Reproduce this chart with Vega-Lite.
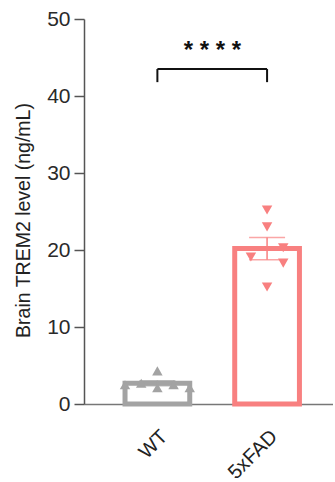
{
  "$schema": "https://vega.github.io/schema/vega-lite/v6.json",
  "autosize": "none",
  "padding": {"left": 84, "top": 19, "right": 0, "bottom": 74},
  "width": 249,
  "height": 385,
  "background": "white",
  "view": {"stroke": "transparent", "strokeWidth": 0},
  "config": {"view": {"stroke": "transparent", "strokeWidth": 0}, "font": "Liberation Sans", "axis": {"grid": false}},
  "datasets": {
    "points": [
      {"group": "WT", "value": 2.5, "col": "a"},
      {"group": "WT", "value": 2.7, "col": "b"},
      {"group": "WT", "value": 4.3, "col": "c"},
      {"group": "WT", "value": 2.1, "col": "c"},
      {"group": "WT", "value": 2.5, "col": "d"},
      {"group": "WT", "value": 2.1, "col": "e"},
      {"group": "5xFAD", "value": 25.2, "col": "c"},
      {"group": "5xFAD", "value": 23.0, "col": "c"},
      {"group": "5xFAD", "value": 20.3, "col": "d"},
      {"group": "5xFAD", "value": 19.1, "col": "b"},
      {"group": "5xFAD", "value": 18.3, "col": "d"},
      {"group": "5xFAD", "value": 15.2, "col": "c"}
    ],
    "bracket": [
      {"group": "WT", "low": 41.8, "high": 43.5},
      {"group": "5xFAD", "low": 41.8, "high": 43.5}
    ],
    "sig": [
      {"from": "WT", "to": "5xFAD", "y": 43.5, "label_y": 45.0, "label": "* * * *"}
    ]
  },
  "resolve": {"scale": {"xOffset": "independent"}},
  "encoding": {
    "x": {
      "field": "group",
      "type": "nominal",
      "sort": ["WT", "5xFAD"],
      "scale": {"type": "band", "domain": ["WT", "5xFAD"], "paddingInner": 0.41, "paddingOuter": 0.34, "align": 0.55},
      "axis": {
        "title": null,
        "labelAngle": -45,
        "labelFontSize": 20,
        "labelColor": "#222",
        "labelPadding": 22,
        "ticks": false,
        "domainColor": "#777",
        "domainWidth": 1.5
      }
    }
  },
  "layer": [
    {
      "data": {"name": "points"},
      "mark": {"type": "bar", "fill": "white", "strokeWidth": 5},
      "encoding": {
        "y": {
          "aggregate": "mean",
          "field": "value",
          "type": "quantitative",
          "title": "Brain TREM2 level (ng/mL)",
          "scale": {"domain": [0, 50]},
          "axis": {
            "values": [0, 10, 20, 30, 40, 50],
            "grid": false,
            "titleFontSize": 19.5,
            "titleFontWeight": "normal",
            "titleColor": "#222",
            "titleX": -61,
            "titleY": 201,
            "titleBaseline": "middle",
            "labelFontSize": 21,
            "labelColor": "#2a2a2a",
            "labelPadding": 4,
            "tickSize": 10,
            "tickColor": "#555",
            "tickWidth": 1.5,
            "domainColor": "#555",
            "domainWidth": 1.5
          }
        },
        "stroke": {
          "field": "group",
          "type": "nominal",
          "scale": {"domain": ["WT", "5xFAD"], "range": ["#a3a3a3", "#f88080"]},
          "legend": null
        }
      }
    },
    {
      "data": {"name": "points"},
      "mark": {"type": "errorbar", "extent": "stderr", "ticks": {"size": 36, "thickness": 1.5}, "rule": {"strokeWidth": 1.5}},
      "encoding": {
        "y": {"field": "value", "type": "quantitative", "title": "Brain TREM2 level (ng/mL)"},
        "color": {
          "field": "group",
          "type": "nominal",
          "scale": {"domain": ["WT", "5xFAD"], "range": ["#a3a3a3", "#f88080"]},
          "legend": null
        }
      }
    },
    {
      "data": {"name": "points"},
      "mark": {"type": "point", "filled": true, "opacity": 1, "size": 110},
      "encoding": {
        "y": {"field": "value", "type": "quantitative", "title": "Brain TREM2 level (ng/mL)"},
        "xOffset": {
          "field": "col",
          "type": "ordinal",
          "scale": {"type": "point", "domain": ["a", "b", "c", "d", "e"], "padding": 0}
        },
        "color": {
          "field": "group",
          "type": "nominal",
          "scale": {"domain": ["WT", "5xFAD"], "range": ["#a3a3a3", "#f88080"]},
          "legend": null
        },
        "shape": {
          "field": "group",
          "type": "nominal",
          "scale": {"domain": ["WT", "5xFAD"], "range": ["triangle-up", "triangle-down"]},
          "legend": null
        }
      }
    },
    {
      "data": {"name": "bracket"},
      "mark": {"type": "rule", "color": "#111", "strokeWidth": 2},
      "encoding": {
        "y": {"field": "low", "type": "quantitative", "title": "Brain TREM2 level (ng/mL)"},
        "y2": {"field": "high"}
      }
    },
    {
      "data": {"name": "sig"},
      "mark": {"type": "rule", "color": "#111", "strokeWidth": 2},
      "encoding": {
        "x": {"field": "from", "type": "nominal"},
        "x2": {"field": "to"},
        "y": {"field": "y", "type": "quantitative", "title": "Brain TREM2 level (ng/mL)"}
      }
    },
    {
      "data": {"name": "sig"},
      "mark": {"type": "text", "fontSize": 24, "fontWeight": "bold", "color": "#111", "baseline": "alphabetic", "align": "center", "dx": 55},
      "encoding": {
        "x": {"field": "from", "type": "nominal"},
        "y": {"field": "label_y", "type": "quantitative", "title": "Brain TREM2 level (ng/mL)"},
        "text": {"field": "label"}
      }
    }
  ]
}
